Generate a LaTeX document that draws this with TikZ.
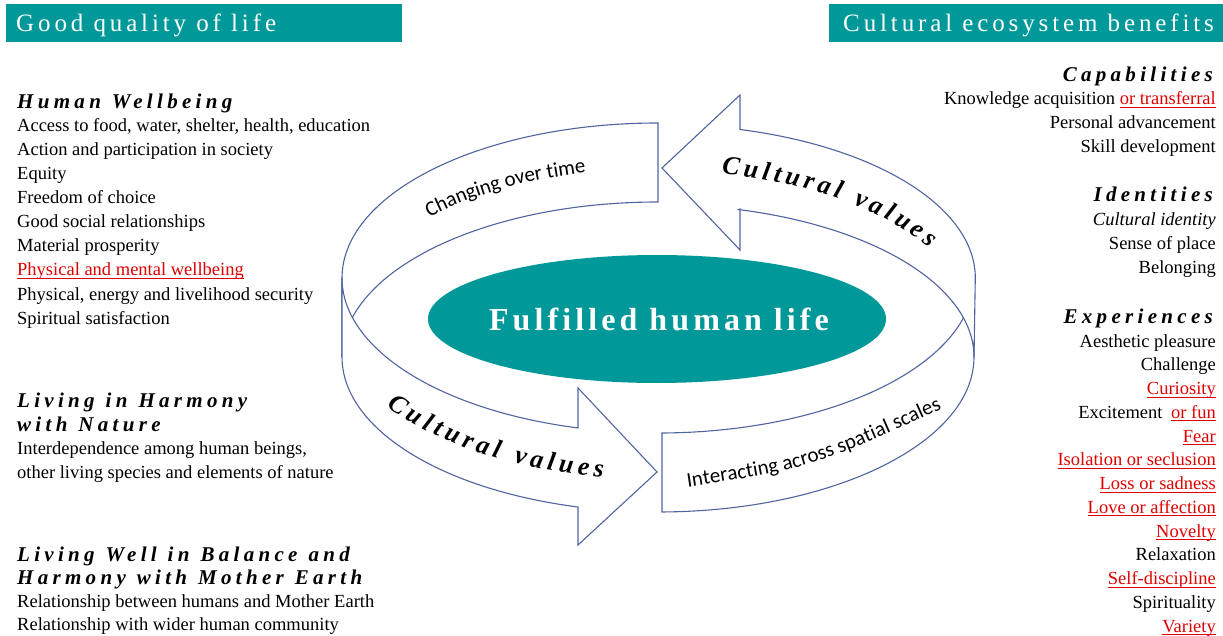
\documentclass[tikz,border=0pt]{standalone}
\usepackage{fontspec}
\setmainfont{Liberation Serif}
\newfontfamily\carl{Carlito}
\newfontfamily\headfont[LetterSpace=15.5]{Liberation Serif}
\newfontfamily\secfont[LetterSpace=20.5,WordSpace=1.15]{Liberation Serif}
\newfontfamily\ellfont[LetterSpace=12.8]{Liberation Serif}
\usetikzlibrary{decorations.markings}
\definecolor{teal1}{RGB}{0,152,152}
\definecolor{ringc}{RGB}{80,100,160}
\definecolor{redu}{RGB}{225,0,0}
\newcommand\bodyfs{\fontsize{18.5}{24}\selectfont}
\newcommand\secfs{\secfont\bfseries\itshape\fontsize{21}{24}\selectfont}
\newcommand\hdrfs{\headfont\fontsize{25}{30}\selectfont}
\newcommand\ellfs{\ellfont\bfseries\fontsize{32}{38}\selectfont}
\newcommand\cvfs{\bfseries\itshape\fontsize{26}{30}\selectfont}
\newcommand\chfs{\carl\fontsize{21}{25}\selectfont}
\newsavebox\rulbox
\newcommand\rul[1]{\sbox\rulbox{#1}\rlap{\rule[-3.2pt]{\wd\rulbox}{1.2pt}}\usebox\rulbox}
\newlength\cvw
\newcounter{cvc}
\def\cvstar{*}
% measure character widths outside the picture (the star stands for a space)
\newcommand\measurechars[3]{%
  \foreach \ch in {#3}{%
    \ifx\ch\cvstar
      \settowidth{\cvw}{#2\ \ }\global\cvw=0.5\cvw
    \else
      \settowidth{\cvw}{#2\ch}%
    \fi
    \expandafter\xdef\csname cvw@#1@\ch\endcsname{\the\cvw}%
  }}
\AtBeginDocument{%
  \measurechars{a}{\cvfs}{C,u,l,t,r,a,v,e,s,*}%
  \measurechars{b}{\chfs}{C,h,a,n,g,i,o,v,e,r,t,m,I,c,s,p,l,*}%
}
% #1 path, #2 tag, #3 font, #4 letter spacing, #5 centre (arc length), #6 baseline shift, #7 characters
\newcommand\arctext[7]{%
  \gdef\cvtot{0}%
  \foreach \ch in {#7}{%
    \edef\cvwv{\csname cvw@#2@\ch\endcsname}%
    \pgfmathsetmacro\cvtmp{\cvtot+\cvwv+#4}%
    \global\let\cvtot\cvtmp
  }%
  \pgfmathsetmacro\cvstart{#5-(\cvtot-#4)/2}%
  \global\let\cvcur\cvstart
  \foreach \ch in {#7}{%
    \edef\cvwv{\csname cvw@#2@\ch\endcsname}%
    \pgfmathsetmacro\cvmid{\cvcur+\cvwv/2}%
    \stepcounter{cvc}%
    \ifx\ch\cvstar\else
    \path[decorate,decoration={markings,mark=at position \cvmid pt with {\node[transform shape,font={#3},inner sep=0pt,anchor=base,yshift=#6] (ch\arabic{cvc}) {\ch};}}] #1;
    \fi
    \pgfmathsetmacro\cvtmp{\cvcur+\cvwv+#4}%
    \global\let\cvcur\cvtmp
  }%
}
\begin{document}
\begin{tikzpicture}[x=1pt,y=1pt,
  ring/.style={draw=ringc,line width=1.1pt,fill=white,line join=miter},
  body/.style={font=\bodyfs,inner sep=0pt,anchor=base west},
  rbody/.style={font=\bodyfs,inner sep=0pt,anchor=base east},
  sec/.style={font=\secfs,inner sep=0pt,anchor=base west},
  rsec/.style={font=\secfs,inner sep=0pt,anchor=base east},
  hdr/.style={font=\hdrfs,text=white,inner sep=0pt,anchor=base west}]
\useasboundingbox (0,0) rectangle (1223,-636);
\fill[white] (0,0) rectangle (1223,-636);
% header bars
\fill[teal1] (6,-4) rectangle (402,-42);
\fill[teal1] (829,-4) rectangle (1223,-42);
\node[hdr] (h1) at (16,-32) {Good quality of life};
\node[hdr] (h2) at (843,-32) {Cultural ecosystem benefits};
% ring
\draw[ring] (342,-278) arc[start angle=180,end angle=90,x radius=316,y radius=155] -- (658,-202) arc[start angle=90,end angle=180,x radius=316,y radius=155] -- cycle;
\draw[ring] (662,-433) arc[start angle=270.73,end angle=360,x radius=316,y radius=155] -- (974,-357) arc[start angle=0,end angle=-89.27,x radius=316,y radius=155] -- cycle;
\draw[ring] (342,-278) arc[start angle=180,end angle=255.33,x radius=316,y radius=155] -- (578,-388) -- (657,-472) -- (578,-545) -- (578,-507) arc[start angle=255.33,end angle=180,x radius=316,y radius=155] -- cycle;
\draw[ring] (662,-168) -- (740,-95) -- (740,-129.5) arc[start angle=75.2,end angle=0,x radius=316,y radius=153.5] -- (974,-357) arc[start angle=0,end angle=75.2,x radius=316,y radius=152.5] -- (740,-209) -- (740,-250) -- cycle;
% centre
\fill[teal1] (657,-319) ellipse[x radius=229,y radius=64];
\node[font=\ellfs,text=white,inner sep=0pt,anchor=base] (core) at (659,-330) {Fulfilled human life};
% curved texts
\arctext{(658,-162.5) arc[start angle=90,end angle=0,x radius=316,y radius=155]}{a}{\cvfs}{4.5}{178.8}{-8pt}{C,u,l,t,u,r,a,l,*,v,a,l,u,e,s}
\arctext{(342,-317.5) arc[start angle=180,end angle=270,x radius=316,y radius=155]}{a}{\cvfs}{4.4}{213}{-7pt}{C,u,l,t,u,r,a,l,*,v,a,l,u,e,s}
\arctext{(342,-317.5) arc[start angle=180,end angle=90,x radius=316,y radius=155]}{b}{\chfs}{0}{225}{-6pt}{C,h,a,n,g,i,n,g,*,o,v,e,r,*,t,i,m,e}
\arctext{(688,-487) .. controls (811,-468) .. (942,-409)}{b}{\chfs}{0}{133.5}{0pt}{I,n,t,e,r,a,c,t,i,n,g,*,a,c,r,o,s,s,*,s,p,a,t,i,a,l,*,s,c,a,l,e,s}
% left column
\node[sec] (lh1) at (17,-108.5) {Human Wellbeing};
\node[body] (l1) at (17,-132) {Access to food, water, shelter, health, education};
\node[body] (l2) at (17,-156) {Action and participation in society};
\node[body] (l3) at (17,-180) {Equity};
\node[body] (l4) at (17,-204) {Freedom of choice};
\node[body] (l5) at (17,-228) {Good social relationships};
\node[body] (l6) at (17,-252) {Material prosperity};
\node[body] (l7) at (17,-276) {\textcolor{redu}{\rul{Physical and mental wellbeing}}};
\node[body] (l8) at (17,-300) {Physical, energy and livelihood security};
\node[body] (l9) at (17,-324) {Spiritual satisfaction};
\node[sec] (lh2) at (17,-407) {Living in Harmony};
\node[sec] (lh3) at (17,-431) {with Nature};
\node[body] (l10) at (17,-454.5) {Interdependence among human beings,};
\node[body] (l11) at (17,-478) {other living species and elements of nature};
\node[sec] (lh4) at (17,-561) {Living Well in Balance and};
\node[sec] (lh5) at (17,-584.5) {Harmony with Mother Earth};
\node[body] (l12) at (17,-607) {Relationship between humans and Mother Earth};
\node[body] (l13) at (17,-630.5) {Relationship with wider human community};
% right column
\node[rsec] (rh1) at (1213,-81.5) {Capabilities};
\node[rbody] (r1) at (1216,-105) {Knowledge acquisition \textcolor{redu}{\rul{or transferral}}};
\node[rbody] (r2) at (1216,-129) {Personal advancement};
\node[rbody] (r3) at (1216,-153) {Skill development};
\node[rsec] (rh2) at (1213,-201.5) {Identities};
\node[rbody] (r4) at (1216,-225.5) {\textit{Cultural identity}};
\node[rbody] (r5) at (1216,-249.5) {Sense of place};
\node[rbody] (r6) at (1216,-273.5) {Belonging};
\node[rsec] (rh3) at (1213,-323.3) {Experiences};
\node[rbody] (r7) at (1216,-347) {Aesthetic pleasure};
\node[rbody] (r8) at (1216,-370.75) {Challenge};
\node[rbody] (r9) at (1216,-394.5) {\textcolor{redu}{\rul{Curiosity}}};
\node[rbody] (r10) at (1216,-418.25) {Excitement\hspace{4pt} \textcolor{redu}{\rul{or fun}}};
\node[rbody] (r11) at (1216,-442) {\textcolor{redu}{\rul{Fear}}};
\node[rbody] (r12) at (1216,-465.75) {\textcolor{redu}{\rul{Isolation or seclusion}}};
\node[rbody] (r13) at (1216,-489.5) {\textcolor{redu}{\rul{Loss or sadness}}};
\node[rbody] (r14) at (1216,-513.25) {\textcolor{redu}{\rul{Love or affection}}};
\node[rbody] (r15) at (1216,-537) {\textcolor{redu}{\rul{Novelty}}};
\node[rbody] (r16) at (1216,-560.75) {Relaxation};
\node[rbody] (r17) at (1216,-584.5) {\textcolor{redu}{\rul{Self-discipline}}};
\node[rbody] (r18) at (1216,-608.25) {Spirituality};
\node[rbody] (r19) at (1216,-632) {\textcolor{redu}{\rul{Variety}}};
\end{tikzpicture}
\end{document}
